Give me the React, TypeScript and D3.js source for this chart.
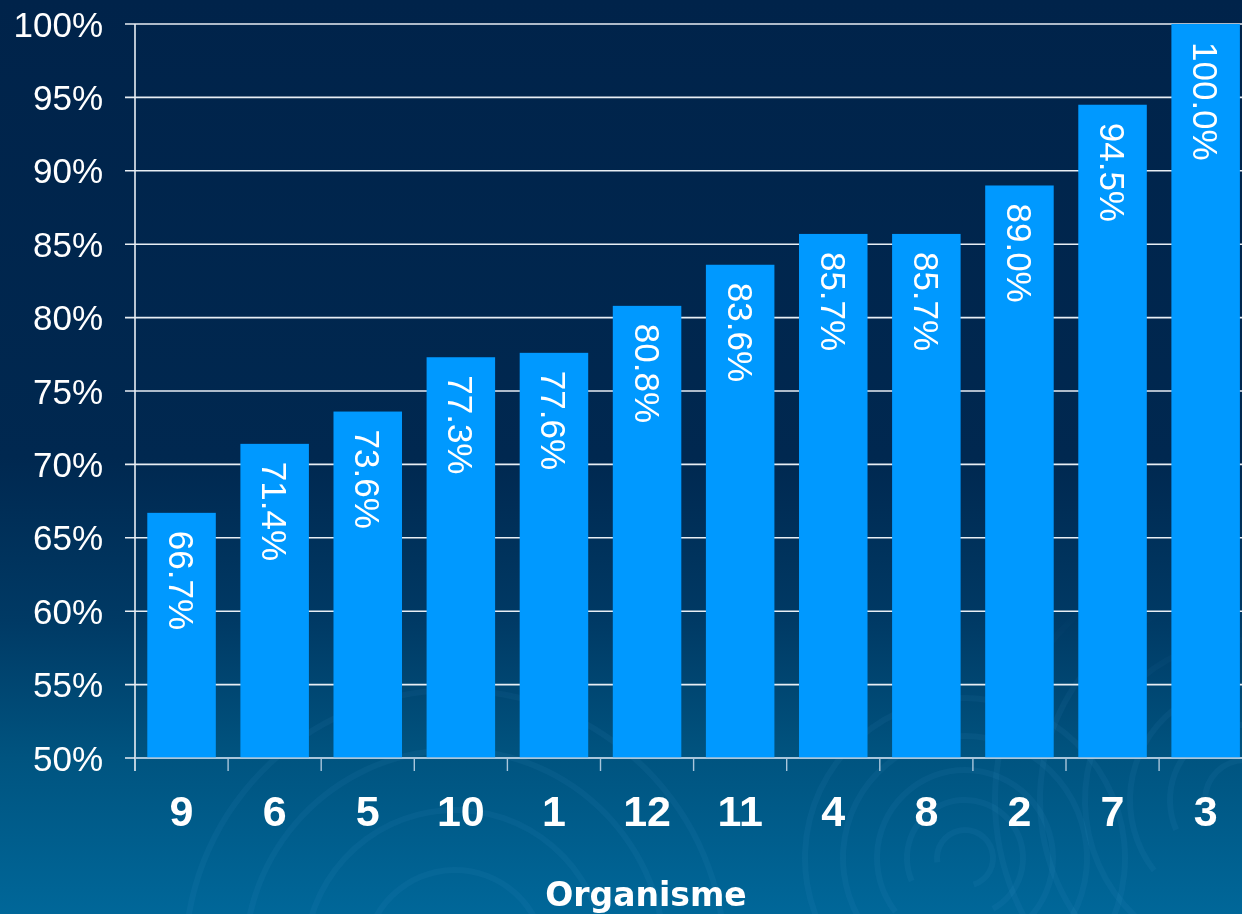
import React from "react";
import * as d3 from "d3";

// Organisations, sorted by rate
const categories: string[] = ["9", "6", "5", "10", "1", "12", "11", "4", "8", "2", "7", "3"];
const rates: number[] = [66.7, 71.4, 73.6, 77.3, 77.6, 80.8, 83.6, 85.7, 85.7, 89.0, 94.5, 100.0];
const yTicks: number[] = [50, 55, 60, 65, 70, 75, 80, 85, 90, 95, 100];
const xTitle = "Organisme";

// Decorative ripple rings in the lower background
const rippleCenters: [number, number][] = [
  [965, 858],
  [1245, 800],
  [455, 960],
];
const rippleRadii: number[][] = [
  [28, 58, 88, 122, 160],
  [40, 75, 115, 160, 205, 250],
  [90, 150, 210, 270],
];

const W = 1242;
const H = 914;
const left = 135;
const top = 24;
const bottom = 758;
const step = 93.1;

export default function App() {
  const x = d3
    .scaleBand<string>()
    .domain(categories)
    .range([left, left + step * categories.length])
    .paddingInner(0.264)
    .paddingOuter(0.132);
  const y = d3.scaleLinear().domain([50, 100]).range([bottom, top]);
  const bw = x.bandwidth();
  const gap = x.step() - bw;
  const boundaries = categories.map((c) => (x(c) as number) - gap / 2);
  boundaries.push(left + step * categories.length);
  const font = "'Liberation Sans', Arial, sans-serif";
  const arc = d3.arc();

  return (
    <svg
      width={W}
      height={H}
      style={{ position: "absolute", left: 0, top: 0, display: "block" }}
    >
      <defs>
        <linearGradient id="bg" x1="0" y1="0" x2="0" y2="1">
          <stop offset="0" stopColor="#00234a" />
          <stop offset="0.5" stopColor="#002850" />
          <stop offset="0.68" stopColor="#003a65" />
          <stop offset="0.83" stopColor="#005480" />
          <stop offset="1" stopColor="#006799" />
        </linearGradient>
        <linearGradient id="fade" x1="0" y1="0" x2="0" y2="1">
          <stop offset="0" stopColor="#fff" stopOpacity={0} />
          <stop offset="0.35" stopColor="#fff" stopOpacity={1} />
          <stop offset="1" stopColor="#fff" stopOpacity={1} />
        </linearGradient>
        <mask id="lower">
          <rect x={0} y={600} width={W} height={H - 600} fill="url(#fade)" />
        </mask>
      </defs>
      <rect x={0} y={0} width={W} height={H} fill="url(#bg)" />
      <g mask="url(#lower)" fill="none">
        {rippleCenters.map(([cx, cy], i) =>
          rippleRadii[i].map((r, j) => (
            <path
              key={`${i}-${j}`}
              transform={`translate(${cx},${cy})`}
              d={
                arc({
                  innerRadius: r - 3,
                  outerRadius: r + 3,
                  startAngle: -Math.PI * (0.55 + 0.08 * j),
                  endAngle: Math.PI * (0.9 - 0.06 * j),
                }) as string
              }
              fill="#4fb0e0"
              opacity={0.07}
            />
          ))
        )}
      </g>

      {/* gridlines */}
      {yTicks.map((t) => (
        <line key={t} x1={left - 10} x2={W} y1={y(t)} y2={y(t)} stroke="#e8eef4" strokeWidth={1.6} />
      ))}
      {/* y axis */}
      <line x1={left} x2={left} y1={top} y2={bottom + 13} stroke="#e8eef4" strokeWidth={1.6} />
      {yTicks.map((t) => (
        <text
          key={t}
          x={103}
          y={y(t)}
          dy="0.36em"
          textAnchor="end"
          fill="#ffffff"
          fontFamily={font}
          fontSize={35}
        >
          {t}%
        </text>
      ))}

      {/* bars */}
      {categories.map((c, i) => (
        <rect
          key={c}
          x={x(c)}
          y={y(rates[i])}
          width={bw}
          height={bottom - y(rates[i])}
          fill="#0099ff"
        />
      ))}
      {categories.map((c, i) => (
        <text
          key={c}
          transform={`translate(${(x(c) as number) + bw / 2},${y(rates[i]) + 18}) rotate(90)`}
          dominantBaseline="central"
          fill="#ffffff"
          fontFamily={font}
          fontSize={35}
        >
          {rates[i].toFixed(1)}%
        </text>
      ))}

      {/* x axis */}
      <line x1={left} x2={W} y1={bottom} y2={bottom} stroke="#a9c6dc" strokeWidth={1.6} />
      {boundaries.slice(1).map((bx, i) => (
        <line key={i} x1={bx} x2={bx} y1={bottom} y2={bottom + 13} stroke="#a9c6dc" strokeWidth={1.4} />
      ))}
      {categories.map((c) => (
        <text
          key={c}
          x={(x(c) as number) + bw / 2}
          y={826}
          textAnchor="middle"
          fill="#ffffff"
          fontFamily={font}
          fontWeight="bold"
          fontSize={43}
        >
          {c}
        </text>
      ))}
      <text
        x={646}
        y={906}
        textAnchor="middle"
        fill="#ffffff"
        fontFamily="'DejaVu Sans', Verdana, sans-serif"
        fontWeight="bold"
        fontSize={33}
      >
        {xTitle}
      </text>
    </svg>
  );
}
